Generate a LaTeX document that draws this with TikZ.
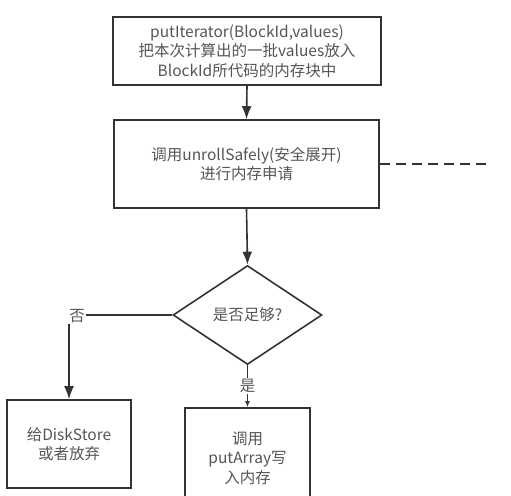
\documentclass[tikz,border=0pt]{standalone}
\usepackage{fontspec}
\setmainfont{Noto Sans CJK SC}
\usetikzlibrary{arrows.meta,calc,shapes}
\tikzset{>={Latex[length=13pt,width=10pt]}}
\definecolor{linegray}{RGB}{51,51,51}
\definecolor{textgray}{RGB}{85,85,85}
\tikzset{
  flowbox/.style={draw=linegray, line width=1.6pt, rectangle, align=center, text=textgray, font=\fontsize{15.5}{19.5}\selectfont},
  choice/.style={draw=linegray, line width=1.6pt, diamond, aspect=1.5, inner sep=0pt, text=textgray, font=\fontsize{15.5}{19.5}\selectfont},
  link/.style={draw=linegray, line width=1.6pt, ->},
  tag/.style={fill=white, text=textgray, inner sep=1pt, font=\fontsize{15.5}{19.5}\selectfont}
}
\begin{document}
\begin{tikzpicture}[x=1pt, y=-1pt]
    \useasboundingbox (0,0) rectangle (511,495);
    \node [flowbox, minimum width=268pt, minimum height=68pt](put) at (247,51){putIterator(BlockId,values)\\把本次计算出的一批values放入\\BlockId所代码的内存块中};
    \node [flowbox, minimum width=265pt, minimum height=88pt](unroll) at (246.5,164){调用unrollSafely(安全展开)\\进行内存申请};
    \node [choice, minimum width=149pt, minimum height=99pt](enough) at (247.5,315){是否足够?};
    \node [flowbox, minimum width=124pt, minimum height=88pt](disk) at (69,444){给DiskStore\\或者放弃};
    \node [flowbox, minimum width=125pt, minimum height=100pt](array) at (247.5,458){调用\\putArray写\\入内存};
    \coordinate (far) at (488,164);
    \draw [link] (put.south) -- (unroll.north);
    \draw [link] (unroll.south) -- (enough.north);
    \draw [draw=linegray, line width=1.6pt, dash pattern=on 10pt off 6pt] (unroll.east) -- (far);
    \draw [link] (enough.west) -| (disk.north);
    \node [tag] (no) at (77,316) {否};
    \draw [link, -{Latex[length=6pt,width=5pt]}] (enough.south) -- (array.north) node[tag, midway]{是};
\end{tikzpicture}
\end{document}
